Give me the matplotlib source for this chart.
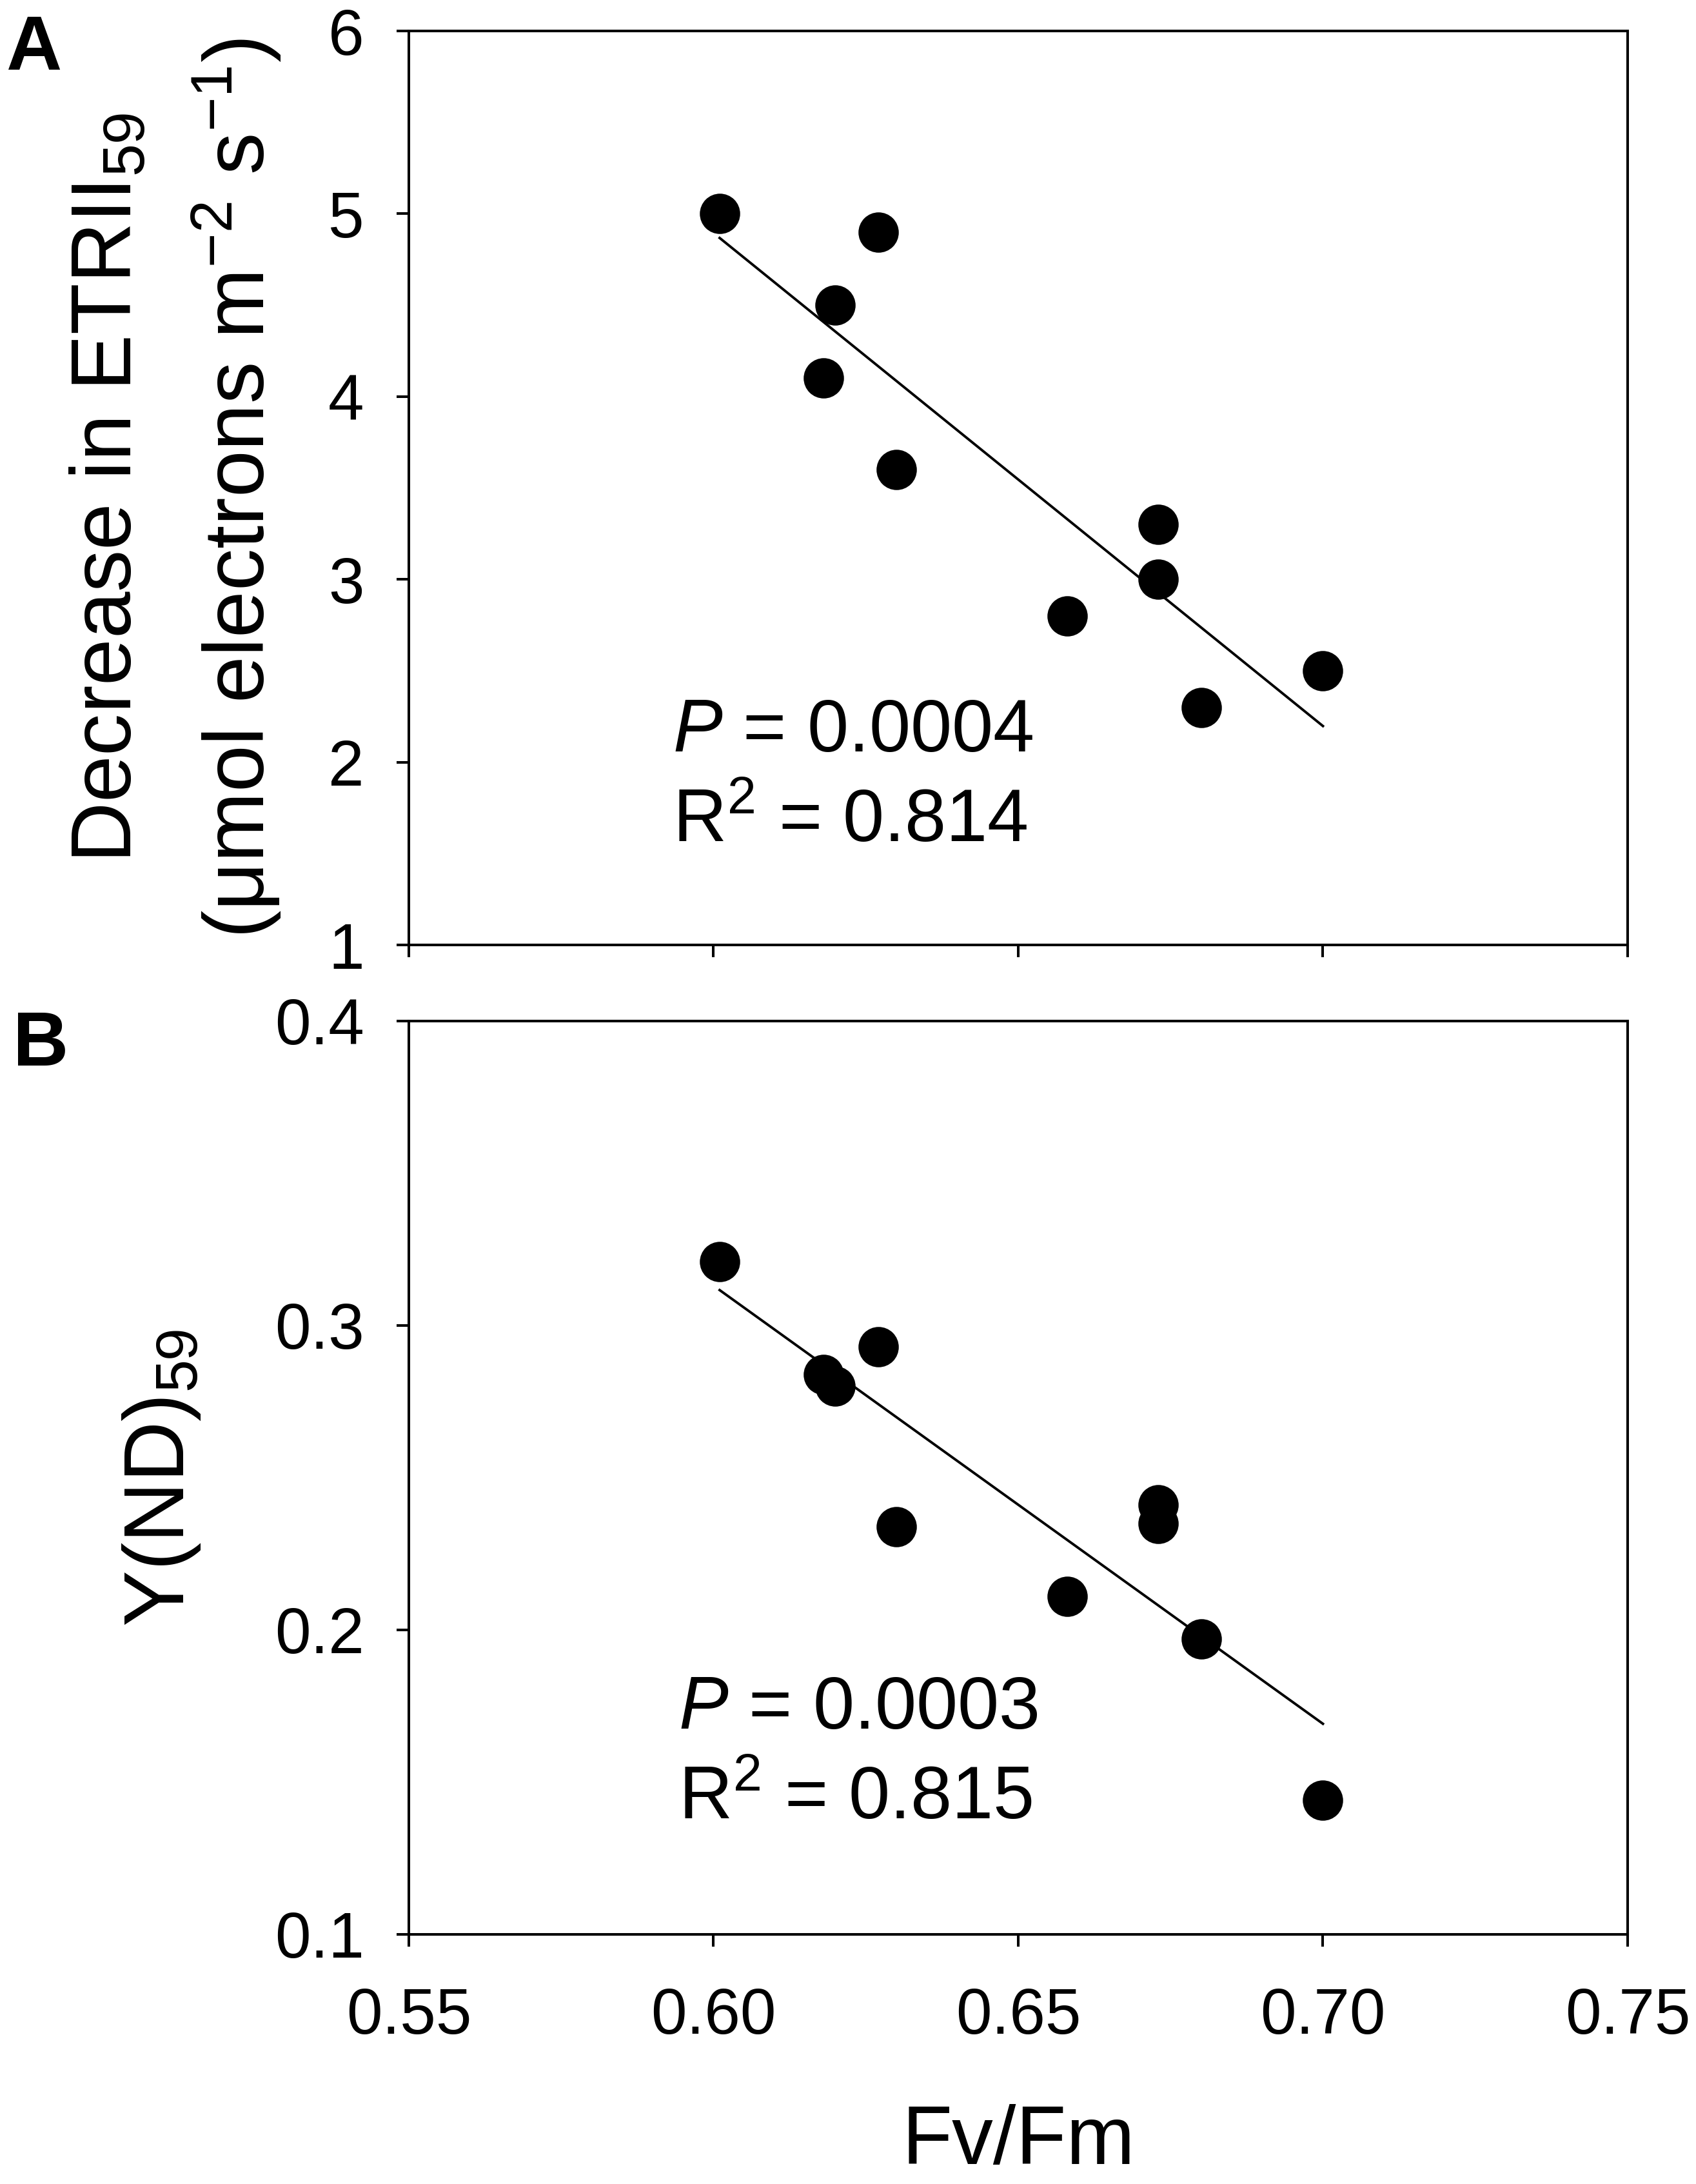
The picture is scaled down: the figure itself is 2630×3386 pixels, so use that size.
import numpy as np
import matplotlib
matplotlib.use("Agg")
import matplotlib.pyplot as plt

plt.rcParams["font.family"] = ["Liberation Sans", "DejaVu Sans"]
plt.rcParams["mathtext.fontset"] = "custom"
plt.rcParams["mathtext.rm"] = "Liberation Sans"
plt.rcParams["mathtext.it"] = "Liberation Sans:italic"
plt.rcParams["mathtext.default"] = "regular"

# data
fvfm = [0.601, 0.627, 0.620, 0.618, 0.630, 0.658, 0.673, 0.673, 0.680, 0.700]
etr_decrease = [5.0, 4.9, 4.5, 4.1, 3.6, 2.8, 3.3, 3.0, 2.3, 2.5]

fvfm_b = [0.601, 0.627, 0.618, 0.620, 0.630, 0.658, 0.673, 0.673, 0.680, 0.700]
ynd = [0.321, 0.293, 0.284, 0.280, 0.234, 0.211, 0.241, 0.235, 0.197, 0.144]

x_ticks = [0.55, 0.60, 0.65, 0.70, 0.75]
a_ticks = [1, 2, 3, 4, 5, 6]
b_ticks = [0.1, 0.2, 0.3, 0.4]

stats_a = ["$\\mathit{P}$ = 0.0004", "R$^{2}$ = 0.814"]
stats_b = ["$\\mathit{P}$ = 0.0003", "R$^{2}$ = 0.815"]

W, H = 2630, 3386
fig = plt.figure(figsize=(W / 100, H / 100), dpi=100)
fig.patch.set_facecolor("white")

left, right = 634, 2524
ax_a = fig.add_axes([left / W, 1 - 1465 / H, (right - left) / W, (1465 - 48) / H])
ax_b = fig.add_axes([left / W, 1 - 2999 / H, (right - left) / W, (2999 - 1583) / H])


def draw_panel(ax, xs, ys, yticks, ylim, yfmt, stats, tx, ty):
    ax.plot(xs, ys, "o", color="black", markersize=45, markeredgewidth=0, zorder=3)
    k, b = np.polyfit(xs, ys, 1)
    xl = np.array([min(xs), max(xs)])
    ax.plot(xl, k * xl + b, color="black", linewidth=2.8, zorder=2)

    ax.set_xlim(0.55, 0.75)
    ax.set_ylim(*ylim)
    ax.set_xticks(x_ticks)
    ax.set_yticks(yticks)
    ax.set_yticklabels([yfmt.format(v) for v in yticks])
    ax.tick_params(direction="out", length=14, width=2.9, labelsize=72, pad=36)
    ax.tick_params(axis="x", pad=44)
    for spine in ax.spines.values():
        spine.set_linewidth(2.9)

    ax.text(tx, ty[0], stats[0], transform=ax.transAxes, fontsize=83, va="baseline", ha="left")
    ax.text(tx, ty[1], stats[1], transform=ax.transAxes, fontsize=83, va="baseline", ha="left")


draw_panel(ax_a, fvfm, etr_decrease, a_ticks, (1, 6), "{:d}", stats_a, 0.2164, (0.2117, 0.1129))
ax_a.set_xticklabels([])

draw_panel(ax_b, fvfm_b, ynd, b_ticks, (0.1, 0.4), "{:.1f}", stats_b, 0.221, (0.2253, 0.1264))
ax_b.set_xticklabels(["{:.2f}".format(v) for v in x_ticks])

# y labels
mid_a = 1 - (48 + 1465) / 2 / H
mid_b = 1 - (1583 + 2999) / 2 / H
fig.text(204 / W, mid_a, "Decrease in ETRII$_{59}$", rotation=90, rotation_mode="anchor",
         ha="center", va="baseline", fontsize=94)
fig.text(410 / W, mid_a, "(μmol electrons m$^{-2}$ s$^{-1}$)", rotation=90, rotation_mode="anchor",
         ha="center", va="baseline", fontsize=94)
fig.text(285 / W, mid_b, "Y(ND)$_{59}$", rotation=90, rotation_mode="anchor",
         ha="center", va="baseline", fontsize=94)

# x label
fig.text((left + right) / 2 / W, 1 - 3355 / H, "Fv/Fm", ha="center", va="baseline", fontsize=92)

# panel letters
fig.text(9 / W, 1 - 108 / H, "A", fontsize=86, fontweight="bold", ha="left", va="baseline")
fig.text(20 / W, 1 - 1652 / H, "B", fontsize=86, fontweight="bold", ha="left", va="baseline")

fig.savefig("out.png", dpi=100, facecolor="white")
plt.close(fig)
